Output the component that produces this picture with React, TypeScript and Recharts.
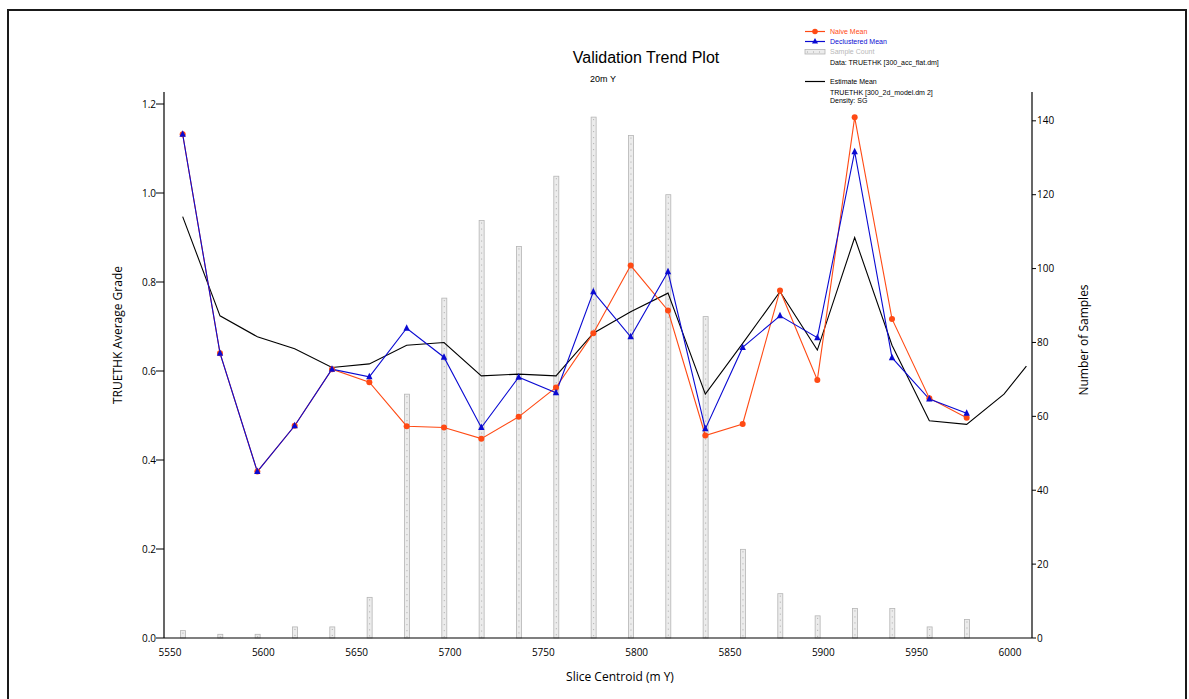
import React from "react";
import { ComposedChart, Bar, Line, XAxis, YAxis } from "recharts";

// slice centroids (m Y)
const slices = [
  5560, 5580, 5600, 5620, 5640, 5660, 5680, 5700, 5720, 5740, 5760, 5780,
  5800, 5820, 5840, 5860, 5880, 5900, 5920, 5940, 5960, 5980,
];
const naiveMean = [
  1.132, 0.64, 0.374, 0.477, 0.604, 0.575, 0.476, 0.473, 0.448, 0.497, 0.563,
  0.685, 0.837, 0.736, 0.455, 0.481, 0.781, 0.58, 1.17, 0.717, 0.539, 0.495,
];
const declusteredMean = [
  1.132, 0.64, 0.374, 0.477, 0.604, 0.587, 0.696, 0.631, 0.473, 0.586, 0.551,
  0.778, 0.677, 0.823, 0.47, 0.653, 0.724, 0.675, 1.093, 0.63, 0.537, 0.505,
];
const sampleCount = [
  2, 1, 1, 3, 3, 11, 66, 92, 113, 106, 125, 141, 136, 120, 87, 24, 12, 6, 8, 8,
  3, 5,
];
// the estimate (model) line carries on past the last sample slice
const estimateSlices = [...slices, 6000, 6012];
const estimateMean = [
  0.947, 0.724, 0.677, 0.65, 0.608, 0.616, 0.658, 0.664, 0.589, 0.593, 0.589,
  0.685, 0.733, 0.775, 0.548, 0.662, 0.778, 0.647, 0.9, 0.658, 0.488, 0.48,
  0.548, 0.611,
];

const xTicks = [5550, 5600, 5650, 5700, 5750, 5800, 5850, 5900, 5950, 6000];
const gradeTicks = [0, 0.2, 0.4, 0.6, 0.8, 1.0, 1.2];
const countTicks = [0, 20, 40, 60, 80, 100, 120, 140];

const data = estimateSlices.map((x, i) => ({
  x,
  naive: naiveMean[i],
  declustered: declusteredMean[i],
  count: sampleCount[i],
  estimate: estimateMean[i],
}));

const ORANGE = "#ff4a14";
const BLUE = "#0a0ad2";
const tickFont = { fontFamily: "Open Sans", fontSize: 10, fill: "#000" };
const labelFont = "Liberation Sans, Arial, sans-serif";

function CountBar(props: any) {
  const { x, y, width, height } = props;
  if (!height || height <= 0) return null;
  const cx = x + width / 2;
  return (
    <g>
      <rect x={x} y={y} width={width} height={height} fill="#ececec" stroke="#b5b5b5" strokeWidth={0.8} />
      <line x1={cx} y1={y + 2} x2={cx} y2={y + height} stroke="#9a9a9a" strokeWidth={0.8} strokeDasharray="1 5" />
    </g>
  );
}

function XTick(props: any) {
  const { x, y, payload } = props;
  return (
    <text x={x + 6} y={y + 10} textAnchor="middle" {...tickFont}>
      {payload.value}
    </text>
  );
}

function Triangle(props: any) {
  const { cx, cy, key } = props;
  if (cx == null || cy == null) return <g key={key} />;
  return <polygon key={key} points={`${cx},${cy - 4} ${cx - 3.2},${cy + 2.5} ${cx + 3.2},${cy + 2.5}`} fill={BLUE} />;
}

export default function App() {
  return (
    <div style={{ position: "absolute", left: 0, top: 0, width: 1189, height: 699, background: "#fff" }}>
      <div
        style={{
          position: "absolute",
          left: 7,
          top: 9,
          width: 1180,
          height: 700,
          border: "2px solid #1a1a1a",
          boxSizing: "border-box",
        }}
      />
      <div style={{ position: "absolute", left: 0, top: 0 }}>
        <ComposedChart width={1189} height={699} data={data} margin={{ top: 92, right: 117, bottom: 31, left: 124 }}>
          <XAxis
            dataKey="x"
            type="number"
            domain={[5550, 6015]}
            ticks={xTicks}
            tick={<XTick />}
            tickLine={false}
            axisLine={{ stroke: "#000", strokeWidth: 1.2 }}
            height={30}
          />
          <YAxis
            yAxisId="left"
            domain={[0, 1.227]}
            ticks={gradeTicks}
            tickFormatter={(v: number) => v.toFixed(1)}
            tick={tickFont}
            tickSize={8}
            tickMargin={0}
            tickLine={{ stroke: "#000" }}
            axisLine={{ stroke: "#000", strokeWidth: 1.2 }}
            width={40}
          />
          <YAxis
            yAxisId="right"
            orientation="right"
            domain={[0, 147.8]}
            ticks={countTicks}
            tick={tickFont}
            tickSize={4}
            tickMargin={1}
            tickLine={{ stroke: "#000" }}
            axisLine={{ stroke: "#000", strokeWidth: 1.2 }}
            width={40}
          />
          <Bar yAxisId="right" dataKey="count" barSize={5} shape={<CountBar />} isAnimationActive={false} />
          <Line
            yAxisId="left"
            dataKey="estimate"
            stroke="#000"
            strokeWidth={1.1}
            dot={false}
            activeDot={false}
            isAnimationActive={false}
          />
          <Line
            yAxisId="left"
            dataKey="naive"
            stroke={ORANGE}
            strokeWidth={1.1}
            dot={{ r: 3, fill: ORANGE, stroke: "none" }}
            activeDot={false}
            isAnimationActive={false}
          />
          <Line
            yAxisId="left"
            dataKey="declustered"
            stroke={BLUE}
            strokeWidth={1.1}
            dot={(p: any) => <Triangle {...p} />}
            activeDot={false}
            isAnimationActive={false}
          />
        </ComposedChart>
      </div>
      <svg
        width={1189}
        height={699}
        style={{ position: "absolute", left: 0, top: 0, pointerEvents: "none" }}
      >
        <text x={646} y={63} textAnchor="middle" fontFamily={labelFont} fontSize={16} fill="#000">
          Validation Trend Plot
        </text>
        <text x={603} y={82} textAnchor="middle" fontFamily={labelFont} fontSize={9} fill="#000">
          20m Y
        </text>
        <text
          transform="translate(122,335) rotate(-90)"
          textAnchor="middle"
          fontFamily="Open Sans"
          fontSize={12}
          fill="#000"
        >
          TRUETHK Average Grade
        </text>
        <text
          transform="translate(1088,340) rotate(-90)"
          textAnchor="middle"
          fontFamily="Open Sans"
          fontSize={12}
          fill="#000"
        >
          Number of Samples
        </text>
        <text x={620} y={681} textAnchor="middle" fontFamily="Open Sans" fontSize={12} fill="#000">
          Slice Centroid (m Y)
        </text>

        {/* legend */}
        <g fontFamily={labelFont} fontSize={7}>
          <line x1={805} y1={31.5} x2={825} y2={31.5} stroke={ORANGE} strokeWidth={1.2} />
          <circle cx={815} cy={31.5} r={2.8} fill={ORANGE} />
          <text x={830} y={34} fill={ORANGE}>Naive Mean</text>

          <line x1={805} y1={41.5} x2={825} y2={41.5} stroke={BLUE} strokeWidth={1.2} />
          <polygon points="815,38 812,43.5 818,43.5" fill={BLUE} />
          <text x={830} y={44} fill={BLUE}>Declustered Mean</text>

          <rect x={805} y={49.5} width={20} height={4.5} fill="#ececec" stroke="#b5b5b5" strokeWidth={0.8} />
          <line x1={807} y1={52} x2={823} y2={52} stroke="#9a9a9a" strokeWidth={0.8} strokeDasharray="1 5" />
          <text x={830} y={54} fill="#b8b8b8">Sample Count</text>

          <text x={830} y={65} fill="#000">Data: TRUETHK [300_acc_flat.dm]</text>

          <line x1={805} y1={81.5} x2={825} y2={81.5} stroke="#000" strokeWidth={1.2} />
          <text x={830} y={84} fill="#000">Estimate Mean</text>
          <text x={830} y={95} fill="#000">TRUETHK [300_2d_model.dm 2]</text>
          <text x={830} y={103} fill="#000">Density: SG</text>
        </g>
      </svg>
    </div>
  );
}
